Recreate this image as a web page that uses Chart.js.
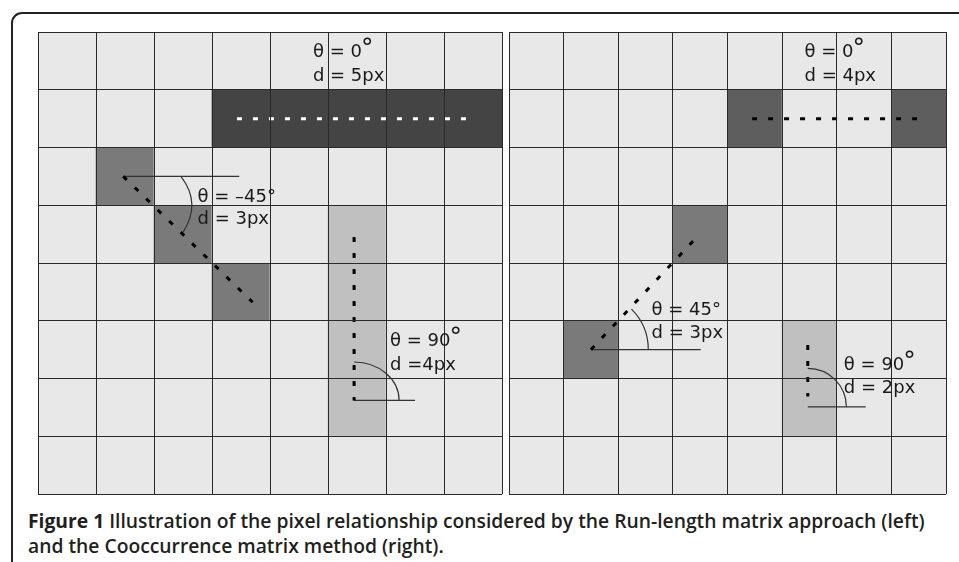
<!DOCTYPE html>
<html>
<head>
<meta charset="utf-8">
<script src="https://cdn.jsdelivr.net/npm/chart.js@4.4.1/dist/chart.umd.min.js"></script>
<style>
    html, body { margin: 0; padding: 0; background: #fff; }
    #page { position: relative; width: 959px; height: 562px; overflow: hidden; }
    #frame { position: absolute; left: 11px; top: 12px; width: 1000px; height: 620px;
             border: 2px solid #222; border-radius: 11px; box-sizing: border-box; }
    canvas { position: absolute; top: 30px; }
    #gridLeft { left: 36px; }
    #gridRight { left: 507px; }
    #caption { position: absolute; left: 28px; top: 508px; font-family: "Open Sans";
               font-size: 19.3px; line-height: 25px; color: #231f20; font-weight: 600; white-space: nowrap; }
    #caption b { font-weight: 700; }
</style>
</head>
<body>
<div id="page">
    <div id="frame"></div>
    <canvas id="gridLeft" width="468" height="466"></canvas>
    <canvas id="gridRight" width="441" height="466"></canvas>
    <div id="caption"><b>Figure 1</b> Illustration of the pixel relationship considered by the Run-length matrix approach (left)<br>and the Cooccurrence matrix method (right).</div>
</div>
<script>
// columns of the 8x8 pixel grids
const columns = ["1", "2", "3", "4", "5", "6", "7", "8"]

// grey level of each pixel, row by row (0 background, 1 light, 2 mid, 3 dark)
const runLengthCells = [
    [0, 0, 0, 0, 0, 0, 0, 0],
    [0, 0, 0, 3, 3, 3, 3, 3],
    [0, 2, 0, 0, 0, 0, 0, 0],
    [0, 0, 2, 0, 0, 1, 0, 0],
    [0, 0, 0, 2, 0, 1, 0, 0],
    [0, 0, 0, 0, 0, 1, 0, 0],
    [0, 0, 0, 0, 0, 1, 0, 0],
    [0, 0, 0, 0, 0, 0, 0, 0]
]
const cooccurrenceCells = [
    [0, 0, 0, 0, 0, 0, 0, 0],
    [0, 0, 0, 0, 3, 0, 0, 3],
    [0, 0, 0, 0, 0, 0, 0, 0],
    [0, 0, 0, 2, 0, 0, 0, 0],
    [0, 0, 0, 0, 0, 0, 0, 0],
    [0, 2, 0, 0, 0, 1, 0, 0],
    [0, 0, 0, 0, 0, 1, 0, 0],
    [0, 0, 0, 0, 0, 0, 0, 0]
]

// direction vectors (grid units: x = column, y = row from top)
const runLengthVectors = [
    [{ x: 3.43, y: 1.5 }, { x: 7.43, y: 1.5 }],
    [{ x: 1.47, y: 2.5 }, { x: 3.7, y: 4.68 }],
    [{ x: 5.45, y: 3.55 }, { x: 5.45, y: 6.38 }]
]
const runLengthBaselines = [
    [{ x: 1.47, y: 2.5 }, { x: 3.47, y: 2.5 }],
    [{ x: 5.45, y: 6.38 }, { x: 6.5, y: 6.38 }]
]
const cooccurrenceVectors = [
    [{ x: 4.45, y: 1.5 }, { x: 7.57, y: 1.5 }],
    [{ x: 1.5, y: 5.5 }, { x: 3.5, y: 3.49 }],
    [{ x: 5.47, y: 5.42 }, { x: 5.47, y: 6.31 }]
]
const cooccurrenceBaselines = [
    [{ x: 1.5, y: 5.5 }, { x: 3.51, y: 5.5 }],
    [{ x: 5.47, y: 6.49 }, { x: 6.53, y: 6.49 }]
]

// angle / distance labels
const runLengthLabels = [["θ = 0°", "d = 5px"], ["θ = –45°", "d = 3px"], ["θ = 90°", "d =4px"]]
const cooccurrenceLabels = [["θ = 0°", "d = 4px"], ["θ = 45°", "d = 3px"], ["θ = 90°", "d = 2px"]]

const overlay = {
    id: "overlay",
    afterDraw(chart, args, opts) {
        const ctx = chart.ctx
        const xs = chart.scales.xp
        const ys = chart.scales.yp
        const px = v => xs.getPixelForValue(v)
        const py = v => ys.getPixelForValue(v)
        ctx.save()
        ctx.strokeStyle = "#333"
        ctx.lineWidth = 1.2
        opts.arcs.forEach(a => {
            ctx.beginPath()
            if (a.ctrl) {
                ctx.moveTo(px(a.from[0]), py(a.from[1]))
                ctx.quadraticCurveTo(px(a.ctrl[0]), py(a.ctrl[1]), px(a.to[0]), py(a.to[1]))
            } else {
                const cx = px(a.c[0])
                const cy = py(a.c[1])
                const rx = Math.abs(px(a.c[0] + a.rx) - cx)
                const ry = Math.abs(py(a.c[1] + a.ry) - cy)
                ctx.ellipse(cx, cy, rx, ry, 0, (a.a0 * Math.PI) / 180, (a.a1 * Math.PI) / 180)
            }
            ctx.stroke()
        })
        ctx.fillStyle = "#1a1a1a"
        ctx.textBaseline = "alphabetic"
        opts.labels.forEach(l => {
            const x = px(l.x)
            const y = py(l.y)
            ctx.font = '18px "DejaVu Sans"'
            let first = l.text[0]
            if (l.bigDegree) {
                first = first.replace("°", "")
                ctx.fillText(first, x, y)
                const w = ctx.measureText(first).width
                ctx.font = '25px "DejaVu Sans"'
                ctx.fillText("°", x + w - 1, y - 1)
                ctx.font = '18px "DejaVu Sans"'
            } else {
                ctx.fillText(first, x, y)
            }
            ctx.fillText(l.text[1], x, y + l.gap)
        })
        ctx.restore()
    }
}

function makeGrid(id, cells, palette, vectors, dashColor, baselines, arcs, labels) {
    const datasets = []
    vectors.forEach((v, i) => {
        datasets.push({
            type: "line",
            data: v,
            xAxisID: "xp",
            yAxisID: "yp",
            borderColor: dashColor[i],
            borderWidth: 3,
            borderDash: [5, 11],
            borderCapStyle: "butt",
            pointRadius: 0,
            fill: false,
            order: 0
        })
    })
    baselines.forEach(b => {
        datasets.push({
            type: "line",
            data: b,
            xAxisID: "xp",
            yAxisID: "yp",
            borderColor: "#333",
            borderWidth: 1.2,
            pointRadius: 0,
            fill: false,
            order: 0
        })
    })
    cells.forEach(row => {
        datasets.push({
            type: "bar",
            data: row.map(() => 1),
            backgroundColor: row.map(s => palette[s]),
            borderWidth: 0,
            grouped: false,
            categoryPercentage: 1,
            barPercentage: 1,
            order: 1
        })
    })

    new Chart(document.getElementById(id), {
        type: "bar",
        data: { labels: columns, datasets },
        options: {
            responsive: false,
            animation: false,
            events: [],
            layout: { padding: 2 },
            plugins: {
                legend: { display: false },
                tooltip: { enabled: false },
                overlay: { arcs, labels }
            },
            scales: {
                x: {
                    stacked: true,
                    offset: true,
                    grid: { offset: true, color: "#2a2a2a", lineWidth: 1, z: 1, drawTicks: false },
                    ticks: { display: false },
                    border: { display: false }
                },
                y: {
                    stacked: true,
                    reverse: true,
                    min: 0,
                    max: 8,
                    grid: { color: "#2a2a2a", lineWidth: 1, z: 1, drawTicks: false },
                    ticks: { display: false, stepSize: 1 },
                    border: { display: false }
                },
                xp: { type: "linear", display: false, min: 0, max: 8, offset: false },
                yp: { type: "linear", display: false, min: 0, max: 8, reverse: true }
            }
        },
        plugins: [overlay]
    })
}

makeGrid(
    "gridLeft",
    runLengthCells,
    ["#e8e8e8", "#c0c0c0", "#7a7a7a", "#444444"],
    runLengthVectors,
    ["#ffffff", "#000000", "#000000"],
    runLengthBaselines,
    [
        { from: [2.47, 2.51], ctrl: [2.82, 2.97], to: [2.5, 3.47] },
        { c: [5.45, 6.38], rx: 0.776, ry: 0.666, a0: -90, a1: 0 }
    ],
    [
        { text: runLengthLabels[0], x: 4.74, y: 0.44, gap: 24, bigDegree: true },
        { text: runLengthLabels[1], x: 2.75, y: 2.94, gap: 22 },
        { text: runLengthLabels[2], x: 6.07, y: 5.44, gap: 24, bigDegree: true }
    ]
)

makeGrid(
    "gridRight",
    cooccurrenceCells,
    ["#e8e8e8", "#c0c0c0", "#7a7a7a", "#5e5e5e"],
    cooccurrenceVectors,
    ["#000000", "#000000", "#000000"],
    cooccurrenceBaselines,
    [
        { c: [1.5, 5.5], rx: 1.05, ry: 0.99, a0: -45, a1: 0 },
        { c: [5.47, 6.49], rx: 0.706, ry: 0.666, a0: -90, a1: 0 }
    ],
    [
        { text: cooccurrenceLabels[0], x: 5.41, y: 0.44, gap: 24, bigDegree: true },
        { text: cooccurrenceLabels[1], x: 2.61, y: 4.9, gap: 23 },
        { text: cooccurrenceLabels[2], x: 6.13, y: 5.86, gap: 23, bigDegree: true }
    ]
)
</script>
</body>
</html>
